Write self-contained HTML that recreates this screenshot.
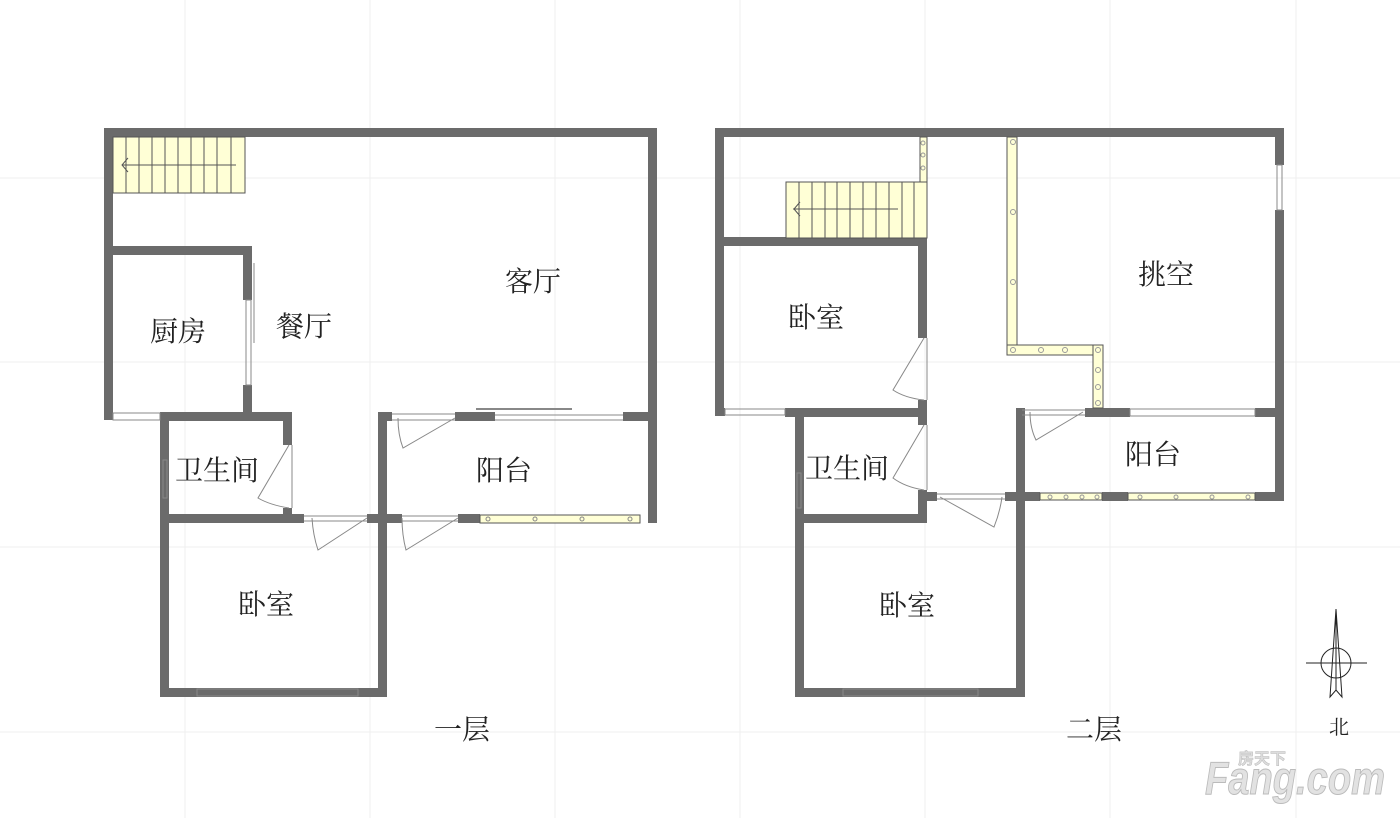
<!DOCTYPE html>
<html><head><meta charset="utf-8"><style>
html,body{margin:0;padding:0;background:#fff;width:1400px;height:818px;overflow:hidden}
svg{display:block}
text{font-family:"Liberation Serif","Noto Serif CJK SC","Noto Sans CJK SC",serif;font-size:28px;fill:#222}
</style></head><body>
<svg width="1400" height="818" viewBox="0 0 1400 818" xmlns="http://www.w3.org/2000/svg">
<g stroke="#efefef" stroke-width="1">
<line x1="185" y1="0" x2="185" y2="818"/><line x1="370" y1="0" x2="370" y2="818"/><line x1="555" y1="0" x2="555" y2="818"/><line x1="740" y1="0" x2="740" y2="818"/><line x1="925" y1="0" x2="925" y2="818"/><line x1="1110" y1="0" x2="1110" y2="818"/><line x1="1296" y1="0" x2="1296" y2="818"/>
<line x1="0" y1="178" x2="1400" y2="178"/><line x1="0" y1="362" x2="1400" y2="362"/><line x1="0" y1="547" x2="1400" y2="547"/><line x1="0" y1="732" x2="1400" y2="732"/>
</g>
<!-- floor 1 -->
<g fill="#6b6b6b">
<rect x="104" y="128" width="553" height="9"/>
<rect x="104" y="128" width="9" height="292"/>
<rect x="648" y="128" width="9" height="395"/>
<rect x="113" y="246" width="139" height="9"/>
<rect x="243" y="246" width="9" height="54"/>
<rect x="243" y="385" width="9" height="36"/>
<rect x="160" y="412" width="132" height="9"/>
<rect x="160" y="412" width="9" height="285"/>
<rect x="283" y="412" width="9" height="33"/>
<rect x="283" y="508" width="9" height="15"/>
<rect x="169" y="514" width="135" height="9"/>
<rect x="367" y="514" width="35" height="9"/>
<rect x="378" y="412" width="9" height="285"/>
<rect x="160" y="688" width="227" height="9"/>
<rect x="378" y="412" width="14" height="9"/><rect x="455" y="412" width="40" height="9"/><rect x="623" y="412" width="34" height="9"/>
<rect x="458" y="514" width="22" height="9"/>
</g>
<rect x="113" y="137" width="132" height="56" fill="#ffffd6" stroke="#555" stroke-width="1"/>
<g stroke="#555" stroke-width="1">
<line x1="126" y1="137" x2="126" y2="193"/><line x1="139" y1="137" x2="139" y2="193"/><line x1="152" y1="137" x2="152" y2="193"/><line x1="165" y1="137" x2="165" y2="193"/><line x1="178" y1="137" x2="178" y2="193"/><line x1="191" y1="137" x2="191" y2="193"/><line x1="204" y1="137" x2="204" y2="193"/><line x1="217" y1="137" x2="217" y2="193"/><line x1="231" y1="137" x2="231" y2="193"/>
<line x1="122" y1="165" x2="236" y2="165"/><polyline points="128,158 122,165 128,172" fill="none"/>
</g>
<rect x="480" y="515" width="160" height="8" fill="#ffffd6" stroke="#555"/>
<g fill="none" stroke="#888" stroke-width="1">
<rect x="246" y="300" width="5" height="85"/><line x1="254" y1="263" x2="254" y2="343"/>
<rect x="113" y="413" width="47" height="7"/>
<rect x="163" y="460" width="4" height="38"/>
<rect x="197" y="689" width="161" height="7"/>
<line x1="292" y1="445" x2="292" y2="508"/><path d="M289,445 L258,498 Q270,505 289,508"/>
<line x1="304" y1="516" x2="367" y2="516"/><line x1="304" y1="521" x2="367" y2="521"/><path d="M367,518 L318,550 Q313,535 312,518"/>
<line x1="402" y1="516" x2="458" y2="516"/><line x1="402" y1="521" x2="458" y2="521"/><path d="M458,518 L406,550 Q402,535 402,518"/>
<line x1="392" y1="414" x2="455" y2="414"/><line x1="392" y1="420" x2="455" y2="420"/><path d="M455,418 L403,448 Q398,435 398,418"/>
<line x1="495" y1="415" x2="623" y2="415"/><line x1="495" y1="420" x2="623" y2="420"/><line x1="476" y1="409" x2="572" y2="409" stroke-width="2"/>
</g>
<g fill="#ffffd6" stroke="#888"><circle cx="535" cy="519" r="2"/><circle cx="582" cy="519" r="2"/><circle cx="630" cy="519" r="2"/><circle cx="488" cy="519" r="2"/></g>
<!-- floor 2 -->
<g fill="#6b6b6b">
<rect x="715" y="128" width="569" height="9"/>
<rect x="715" y="128" width="9" height="288"/>
<rect x="1275" y="128" width="9" height="37"/><rect x="1275" y="210" width="9" height="291"/>
<rect x="724" y="237" width="203" height="9"/>
<rect x="918" y="237" width="9" height="101"/>
<rect x="918" y="400" width="9" height="25"/>
<rect x="918" y="490" width="9" height="33"/>
<rect x="795" y="408" width="132" height="9"/><rect x="715" y="408" width="10" height="8"/><rect x="785" y="408" width="20" height="9"/>
<rect x="795" y="408" width="9" height="289"/>
<rect x="804" y="514" width="123" height="9"/>
<rect x="927" y="492" width="10" height="9"/>
<rect x="1016" y="408" width="9" height="289"/>
<rect x="1005" y="492" width="35" height="9"/><rect x="1102" y="492" width="26" height="9"/><rect x="1255" y="492" width="29" height="9"/>
<rect x="1085" y="408" width="45" height="9"/><rect x="1255" y="408" width="29" height="9"/><rect x="1016" y="408" width="6" height="9"/>
<rect x="795" y="688" width="230" height="9"/>
</g>
<rect x="786" y="182" width="141" height="56" fill="#ffffd6" stroke="#555"/>
<g stroke="#555" stroke-width="1">
<line x1="799" y1="182" x2="799" y2="238"/><line x1="812" y1="182" x2="812" y2="238"/><line x1="825" y1="182" x2="825" y2="238"/><line x1="837" y1="182" x2="837" y2="238"/><line x1="850" y1="182" x2="850" y2="238"/><line x1="863" y1="182" x2="863" y2="238"/><line x1="876" y1="182" x2="876" y2="238"/><line x1="889" y1="182" x2="889" y2="238"/><line x1="902" y1="182" x2="902" y2="238"/><line x1="914" y1="182" x2="914" y2="238"/>
<line x1="793" y1="209" x2="898" y2="209"/><polyline points="800,202 794,209 800,216" fill="none"/>
</g>
<g fill="#ffffd6" stroke="#555">
<rect x="920" y="137" width="7" height="45"/>
<rect x="1007" y="137" width="10" height="218"/>
<rect x="1007" y="345" width="96" height="10"/>
<rect x="1093" y="345" width="10" height="63"/>
<rect x="1040" y="493" width="62" height="7"/><rect x="1128" y="493" width="127" height="7"/>
</g>
<g fill="none" stroke="#999">
<circle cx="923" cy="155" r="2"/><circle cx="923" cy="168" r="2"/><circle cx="923" cy="143" r="2"/>
<circle cx="1013" cy="142" r="2.5"/><circle cx="1013" cy="212" r="2.5"/><circle cx="1013" cy="282" r="2.5"/><circle cx="1013" cy="350" r="2.5"/><circle cx="1041" cy="350" r="2.5"/><circle cx="1065" cy="350" r="2.5"/><circle cx="1098" cy="350" r="2.5"/><circle cx="1098" cy="370" r="2.5"/><circle cx="1098" cy="387" r="2.5"/><circle cx="1098" cy="403" r="2.5"/>
<circle cx="1050" cy="497" r="2"/><circle cx="1066" cy="497" r="2"/><circle cx="1082" cy="497" r="2"/><circle cx="1097" cy="497" r="2"/><circle cx="1140" cy="497" r="2"/><circle cx="1176" cy="497" r="2"/><circle cx="1212" cy="497" r="2"/><circle cx="1248" cy="497" r="2"/>
</g>
<g fill="none" stroke="#888" stroke-width="1">
<rect x="1277" y="165" width="5" height="45"/>
<rect x="725" y="409" width="60" height="6"/>
<rect x="797" y="473" width="4" height="35"/>
<rect x="843" y="689" width="135" height="7"/>
<rect x="1130" y="409" width="125" height="7"/>
<line x1="927" y1="338" x2="927" y2="400"/><path d="M924,338 L893,390 Q905,398 924,400"/>
<line x1="927" y1="425" x2="927" y2="490"/><path d="M924,425 L893,478 Q905,487 924,490"/>
<line x1="937" y1="494" x2="1005" y2="494"/><line x1="937" y1="499" x2="1005" y2="499"/><path d="M940,497 L994,527 Q1000,512 1002,497"/>
<line x1="1022" y1="410" x2="1085" y2="410"/><line x1="1022" y1="415" x2="1085" y2="415"/><path d="M1083,412 L1036,440 Q1030,428 1030,412"/>
</g>
<!-- compass -->
<g stroke="#222" stroke-width="1" fill="none">
<line x1="1306" y1="663" x2="1367" y2="663"/><circle cx="1336" cy="663" r="15"/>
<path d="M1336,609 L1330,697 L1336,690 L1342,697 Z"/><line x1="1336" y1="609" x2="1336" y2="690"/>
</g>
<text x="1329" y="734" style="font-size:20px">北</text>
<text x="505" y="291">客厅</text>
<text x="150" y="341">厨房</text>
<text x="276" y="336">餐厅</text>
<text x="175" y="480">卫生间</text>
<text x="476" y="480">阳台</text>
<text x="238" y="614">卧室</text>
<text x="434" y="739">一层</text>
<text x="788" y="327">卧室</text>
<text x="1138" y="284">挑空</text>
<text x="805" y="478">卫生间</text>
<text x="1125" y="464">阳台</text>
<text x="879" y="615">卧室</text>
<text x="1066" y="739">二层</text>
<text x="1205" y="794" textLength="180" lengthAdjust="spacingAndGlyphs" style="font-family:'Liberation Sans',sans-serif;font-size:46px;font-weight:bold;font-style:italic;fill:#e2e2e2;stroke:#bbb;stroke-width:1">Fang.com</text>
<text x="1238" y="764" style="font-family:'Noto Sans CJK SC',sans-serif;font-size:16px;font-weight:bold;fill:#ddd;stroke:#bbb;stroke-width:0.5">房天下</text>
</svg>
</body></html>
